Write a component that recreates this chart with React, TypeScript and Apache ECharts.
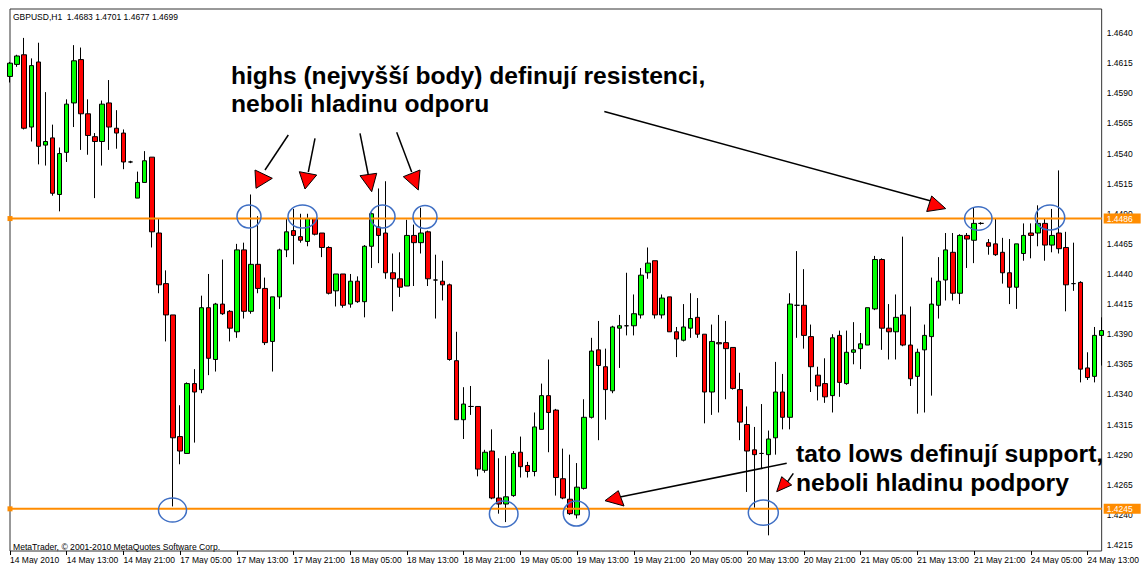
import React, { useEffect, useRef } from 'react';
import * as echarts from 'echarts';

const symbolTitle = 'GBPUSD,H1  1.4683 1.4701 1.4677 1.4699';
const copyright = 'MetaTrader, © 2001-2010 MetaQuotes Software Corp.';

const timeLabels = [
  '14 May 2010', '14 May 13:00', '14 May 21:00', '17 May 05:00', '17 May 13:00',
  '17 May 21:00', '18 May 05:00', '18 May 13:00', '18 May 21:00', '19 May 05:00',
  '19 May 13:00', '19 May 21:00', '20 May 05:00', '20 May 13:00', '20 May 21:00',
  '21 May 05:00', '21 May 13:00', '21 May 21:00', '24 May 05:00', '24 May 13:00',
];

const priceTicks = [
  1.4215, 1.424, 1.4265, 1.429, 1.4315, 1.434, 1.4365, 1.439, 1.4415,
  1.444, 1.4465, 1.449, 1.4515, 1.454, 1.4565, 1.459, 1.4615, 1.464,
];

const opens = [
  1.4604, 1.4614, 1.4622, 1.4562, 1.4616, 1.4547, 1.4553, 1.4506, 1.4541, 1.4582,
  1.4618, 1.4573, 1.4554, 1.4550, 1.4582, 1.4561, 1.4557, 1.4533, 1.4503, 1.4516,
  1.4537, 1.4474, 1.4432, 1.4406, 1.4305, 1.4291, 1.4349, 1.4344, 1.4412, 1.4369,
  1.4415, 1.4409, 1.4392, 1.4460, 1.4409, 1.4448, 1.4428, 1.4384, 1.4421, 1.4460,
  1.4476, 1.4471, 1.4467, 1.4486, 1.4474, 1.4462, 1.4426, 1.4440, 1.4415, 1.4434,
  1.4417, 1.4463, 1.4479, 1.4474, 1.4441, 1.4436, 1.4430, 1.4472, 1.4466, 1.4475,
  1.4435, 1.4434, 1.4431, 1.4368, 1.4319, 1.4330, 1.4330, 1.4277, 1.4293, 1.4254,
  1.4249, 1.4256, 1.4292, 1.4281, 1.4276, 1.4311, 1.4339, 1.4327, 1.4270, 1.4253,
  1.4240, 1.4262, 1.4321, 1.4377, 1.4363, 1.4343, 1.4395, 1.4397, 1.4397, 1.4406,
  1.4441, 1.4451, 1.4406, 1.4421, 1.4392, 1.4385, 1.4395, 1.4404, 1.4390, 1.4342,
  1.4383, 1.4383, 1.4379, 1.4344, 1.4315, 1.4294, 1.4291, 1.4290, 1.4304, 1.4342,
  1.4321, 1.4414, 1.4414, 1.4388, 1.4356, 1.4349, 1.4339, 1.4389, 1.4349, 1.4375,
  1.4378, 1.4381, 1.4411, 1.4452, 1.4395, 1.4392, 1.4406, 1.4381, 1.4355, 1.4377,
  1.4388, 1.4414, 1.4435, 1.4458, 1.4424, 1.4472, 1.4468, 1.4482, 1.4466, 1.4465,
  1.4458, 1.4441, 1.4429, 1.4457, 1.4474, 1.4474, 1.4482, 1.4464, 1.4474, 1.4462,
  1.4432, 1.4433, 1.4362, 1.4355, 1.4389,
];

const closes = [
  1.4615, 1.4621, 1.4561, 1.4613, 1.4546, 1.4550, 1.4507, 1.4540, 1.4581, 1.4617,
  1.4573, 1.4555, 1.4550, 1.4581, 1.4562, 1.4557, 1.4533, 1.4533, 1.4516, 1.4534,
  1.4475, 1.4431, 1.4406, 1.4304, 1.4293, 1.4349, 1.4342, 1.4412, 1.4370, 1.4415,
  1.4407, 1.4395, 1.4460, 1.4409, 1.4448, 1.4428, 1.4383, 1.4421, 1.4460, 1.4475,
  1.4472, 1.4468, 1.4486, 1.4473, 1.4462, 1.4424, 1.4440, 1.4414, 1.4434, 1.4417,
  1.4463, 1.4490, 1.4472, 1.4441, 1.4436, 1.4429, 1.4472, 1.4466, 1.4474, 1.4436,
  1.4435, 1.4431, 1.4369, 1.4319, 1.4332, 1.4330, 1.4278, 1.4292, 1.4254, 1.4249,
  1.4255, 1.4291, 1.4280, 1.4276, 1.4313, 1.4339, 1.4325, 1.4271, 1.4254, 1.4241,
  1.4263, 1.4321, 1.4376, 1.4364, 1.4344, 1.4396, 1.4397, 1.4397, 1.4407, 1.4439,
  1.4449, 1.4406, 1.4420, 1.4392, 1.4386, 1.4396, 1.4403, 1.4390, 1.4342, 1.4384,
  1.4382, 1.4378, 1.4345, 1.4317, 1.4293, 1.4290, 1.4291, 1.4303, 1.4342, 1.4321,
  1.4415, 1.4414, 1.4389, 1.4363, 1.4347, 1.4338, 1.4387, 1.4350, 1.4375, 1.4377,
  1.4382, 1.4412, 1.4452, 1.4395, 1.4392, 1.4404, 1.4381, 1.4353, 1.4375, 1.4389,
  1.4415, 1.4434, 1.4460, 1.4424, 1.4472, 1.4469, 1.4482, 1.4482, 1.4463, 1.4456,
  1.4441, 1.4429, 1.4465, 1.4472, 1.4472, 1.4482, 1.4464, 1.4472, 1.4461, 1.4431,
  1.4432, 1.4361, 1.4354, 1.4389, 1.4393,
];

const lows = [
  1.4599, 1.4612, 1.4560, 1.4550, 1.4531, 1.4530, 1.4505, 1.4492, 1.4533, 1.4562,
  1.4543, 1.4539, 1.4503, 1.4530, 1.4543, 1.4544, 1.4527, 1.4532, 1.4503, 1.4516,
  1.4462, 1.4424, 1.4384, 1.4247, 1.4282, 1.4291, 1.4300, 1.4341, 1.4356, 1.4359,
  1.4406, 1.4384, 1.4387, 1.4403, 1.4407, 1.4424, 1.4381, 1.4359, 1.4411, 1.4454,
  1.4448, 1.4466, 1.4463, 1.4472, 1.4454, 1.4423, 1.4413, 1.4412, 1.4412, 1.4416,
  1.4404, 1.4445, 1.4449, 1.4436, 1.4409, 1.4421, 1.4430, 1.4430, 1.4457, 1.4430,
  1.4403, 1.4418, 1.4368, 1.4319, 1.4303, 1.4323, 1.4272, 1.4275, 1.4253, 1.4241,
  1.4234, 1.4255, 1.4271, 1.4271, 1.4272, 1.4311, 1.4292, 1.4256, 1.4253, 1.4240,
  1.4237, 1.4261, 1.4320, 1.4302, 1.4319, 1.4341, 1.4362, 1.4389, 1.4389, 1.4403,
  1.4436, 1.4403, 1.4403, 1.4392, 1.4371, 1.4384, 1.4387, 1.4387, 1.4316, 1.4323,
  1.4325, 1.4336, 1.4344, 1.4302, 1.4259, 1.4246, 1.4278, 1.4223, 1.4290, 1.4311,
  1.4311, 1.4387, 1.4378, 1.4342, 1.4335, 1.4333, 1.4325, 1.4338, 1.4348, 1.4365,
  1.4361, 1.4381, 1.4410, 1.4377, 1.4369, 1.4369, 1.4380, 1.4347, 1.4324, 1.4325,
  1.4339, 1.4403, 1.4418, 1.4418, 1.4415, 1.4445, 1.4449, 1.4481, 1.4456, 1.4455,
  1.4432, 1.4415, 1.4411, 1.4451, 1.4453, 1.4463, 1.4451, 1.4458, 1.4457, 1.4409,
  1.4426, 1.4350, 1.4352, 1.4350, 1.4364,
];

const highs = [
  1.4616, 1.4622, 1.4636, 1.4619, 1.4632, 1.4591, 1.4564, 1.4545, 1.4585, 1.4630,
  1.4628, 1.4585, 1.4557, 1.4584, 1.4601, 1.4576, 1.4560, 1.4534, 1.4525, 1.4542,
  1.4537, 1.4486, 1.4443, 1.4406, 1.4331, 1.4350, 1.4361, 1.4422, 1.4440, 1.4416,
  1.4452, 1.4410, 1.4465, 1.4466, 1.4506, 1.4488, 1.4437, 1.4421, 1.4461, 1.4486,
  1.4494, 1.4490, 1.4490, 1.4486, 1.4474, 1.4463, 1.4440, 1.4440, 1.4440, 1.4438,
  1.4464, 1.4491, 1.4511, 1.4517, 1.4457, 1.4458, 1.4485, 1.4481, 1.4495, 1.4476,
  1.4456, 1.4451, 1.4432, 1.4392, 1.4346, 1.4347, 1.4330, 1.4294, 1.4311, 1.4287,
  1.4289, 1.4293, 1.4305, 1.4284, 1.4325, 1.4349, 1.4369, 1.4328, 1.4295, 1.4290,
  1.4283, 1.4336, 1.4387, 1.4401, 1.4378, 1.4397, 1.4406, 1.4441, 1.4423, 1.4445,
  1.4462, 1.4451, 1.4423, 1.4421, 1.4396, 1.4415, 1.4424, 1.4420, 1.4390, 1.4398,
  1.4406, 1.4401, 1.4379, 1.4358, 1.4330, 1.4313, 1.4332, 1.4310, 1.4367, 1.4357,
  1.4424, 1.4459, 1.4444, 1.4398, 1.4363, 1.4370, 1.4390, 1.4393, 1.4393, 1.4400,
  1.4391, 1.4412, 1.4455, 1.4453, 1.4415, 1.4423, 1.4471, 1.4413, 1.4378, 1.4398,
  1.4437, 1.4454, 1.4474, 1.4474, 1.4473, 1.4474, 1.4495, 1.4483, 1.4469, 1.4486,
  1.4470, 1.4469, 1.4465, 1.4482, 1.4482, 1.4497, 1.4486, 1.4494, 1.4526, 1.4475,
  1.4466, 1.4434, 1.4375, 1.4396, 1.4404,
];

const resistanceLevel = 1.4486;
const supportLevel = 1.4245;

const annotationTop = ['highs (nejvyšší body) definují resistenci,', 'neboli hladinu odporu'];
const annotationBottom = ['tato lows definují support,', 'neboli hladinu podpory'];

const ellipses: number[][] = [
  [249, 216.5, 12, 11.5], [302.5, 216.5, 14.5, 11.5], [382.5, 216.5, 12.5, 11.5], [425, 217, 12, 11.5],
  [172.5, 510, 14, 12], [503.7, 514, 14.3, 13], [576.3, 513.5, 13, 12.6], [763.3, 512.6, 15, 12.6],
  [978.3, 218.5, 13.7, 11.7], [1050, 217.5, 14.7, 12.5],
];

const arrows: { line: number[]; head: number[][] }[] = [
  { line: [288.3, 135, 265, 170], head: [[255, 170], [272.3, 178.3], [256, 188.3]] },
  { line: [315, 138.3, 308.3, 172], head: [[299.3, 171.7], [316.7, 175], [305, 189]] },
  { line: [360, 133.3, 368.3, 175], head: [[360, 175.7], [376.7, 173.3], [371.7, 191.7]] },
  { line: [396.7, 132.3, 411.7, 172], head: [[403.3, 176.7], [420, 170], [418.3, 190]] },
  { line: [604.3, 111.5, 931, 201], head: [[926.7, 211.5], [931.7, 196], [945.7, 208.6]] },
  { line: [786.7, 463.3, 620, 497], head: [[605, 500.7], [618.3, 490.7], [624, 506]] },
  { line: [793.3, 473.3, 786, 484], head: [[776.7, 491.7], [781.7, 476.7], [791.7, 485]] },
];

const FONT = '"Liberation Sans", Arial, sans-serif';
const ORANGE = '#ff8c00';

export default function App() {
  const ref = useRef<HTMLDivElement>(null);

  useEffect(() => {
    document.body.style.margin = '0';
    const chart = echarts.init(ref.current!, null, { renderer: 'svg' });
    const categories = opens.map((_, i) => String(i));
    const candleData = opens.map((o, i) => [o, closes[i], lows[i], highs[i]]);
    const tickKeys = priceTicks.map((t) => Math.round(t * 10000));
    const lastIdx = opens.length - 1;

    const graphics: any[] = [];
    graphics.push({
      type: 'text', x: 13, y: 16.5, z: 100,
      style: { text: symbolTitle, font: `8.5px ${FONT}`, fill: '#000', verticalAlign: 'middle' },
    });
    graphics.push({
      type: 'text', x: 13, y: 546.5, z: 100,
      style: { text: copyright, font: `8.6px ${FONT}`, fill: '#000', verticalAlign: 'middle' },
    });
    annotationTop.forEach((t, i) => {
      graphics.push({
        type: 'text', x: 231, y: 75 + i * 28, z: 100,
        style: { text: t, font: `bold 24.6px ${FONT}`, fill: '#000', verticalAlign: 'middle' },
      });
    });
    annotationBottom.forEach((t, i) => {
      graphics.push({
        type: 'text', x: 796, y: 453 + i * 29, z: 100,
        style: { text: t, font: `bold 24.7px ${FONT}`, fill: '#000', verticalAlign: 'middle' },
      });
    });
    ellipses.forEach(([cx, cy, rx, ry]) => {
      graphics.push({
        type: 'ellipse', z: 90, shape: { cx, cy, rx, ry },
        style: { fill: 'none', stroke: '#3f6fc4', lineWidth: 1.5 },
      });
    });
    arrows.forEach((a) => {
      graphics.push({
        type: 'line', z: 95,
        shape: { x1: a.line[0], y1: a.line[1], x2: a.line[2], y2: a.line[3] },
        style: { stroke: '#000', lineWidth: 1.5 },
      });
      graphics.push({
        type: 'polygon', z: 96, shape: { points: a.head },
        style: { fill: '#ff0000', stroke: '#000', lineWidth: 1 },
      });
    });

    const levelSeries = (v: number) => ({
      type: 'line',
      data: [[0, v], [lastIdx, v]],
      z: 5,
      clip: false,
      symbol: 'rect',
      symbolSize: 5,
      showSymbol: true,
      silent: true,
      lineStyle: { color: ORANGE, width: 2 },
      itemStyle: { color: ORANGE },
      endLabel: {
        show: true, distance: 2, formatter: () => v.toFixed(4),
        backgroundColor: ORANGE, color: '#fff', fontSize: 8.5, fontFamily: FONT,
        padding: [1, 8, 0, 3],
      },
    });

    chart.setOption({
      animation: false,
      backgroundColor: '#fff',
      grid: {
        left: 10, right: 34, top: 9, bottom: 10, show: true,
        borderColor: '#333', borderWidth: 1, backgroundColor: '#fff',
      },
      xAxis: {
        type: 'category', data: categories, boundaryGap: false,
        axisLine: { show: false },
        axisTick: { show: true, interval: 7, length: 4, lineStyle: { color: '#000' } },
        axisLabel: {
          interval: 7, align: 'left', margin: 4, fontSize: 8.5, fontFamily: FONT, color: '#000',
          formatter: (_v: string, idx: number) => timeLabels[Math.round(idx / 8)] ?? '',
        },
        splitLine: { show: false },
      },
      yAxis: {
        type: 'value', position: 'right', min: 1.421, max: 1.466, interval: 0.0005,
        axisLine: { show: false }, axisTick: { show: false }, splitLine: { show: false },
        axisLabel: {
          margin: 5, fontSize: 8.5, fontFamily: FONT, color: '#000',
          formatter: (v: number) => (tickKeys.includes(Math.round(v * 10000)) ? v.toFixed(4) : ''),
        },
      },
      series: [
        {
          type: 'candlestick', data: candleData, barWidth: 5, clip: true, z: 2,
          itemStyle: {
            color: '#00ff00', color0: '#ff0000', borderColor: '#000', borderColor0: '#000',
            borderColorDoji: '#000', borderWidth: 1,
          },
        },
        levelSeries(resistanceLevel),
        levelSeries(supportLevel),
      ],
      graphic: graphics,
    });
    return () => chart.dispose();
  }, []);

  return <div ref={ref} style={{ width: 1142, height: 564 }} />;
}
